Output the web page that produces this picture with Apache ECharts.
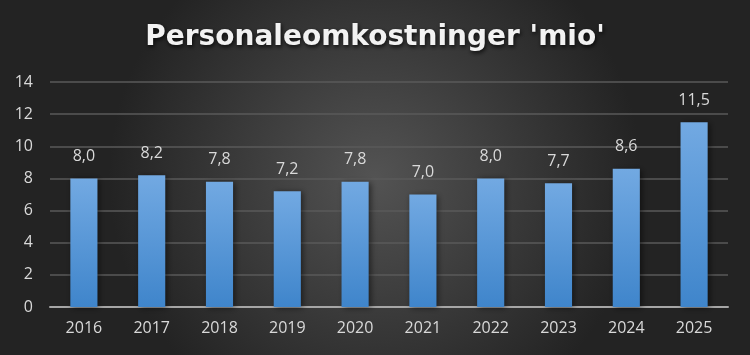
<!DOCTYPE html>
<html>
<head>
<meta charset="utf-8">
<script src="https://cdn.jsdelivr.net/npm/echarts@6/dist/echarts.min.js"></script>
<style>
  html, body { margin: 0; padding: 0; }
  #chart { width: 750px; height: 355px; }
</style>
</head>
<body>
<div id="chart"></div>
<script>
const years = ['2016', '2017', '2018', '2019', '2020', '2021', '2022', '2023', '2024', '2025'];
const costs = [8.0, 8.2, 7.8, 7.2, 7.8, 7.0, 8.0, 7.7, 8.6, 11.5];
const yTicks = [0, 2, 4, 6, 8, 10, 12, 14];

const chart = echarts.init(document.getElementById('chart'));

const textColor = '#d9d9d9';
const font = 'Open Sans, Noto Sans, sans-serif';

chart.setOption({
  backgroundColor: new echarts.graphic.RadialGradient(0.5, 0.5, 0.75, [
    { offset: 0, color: '#535353' },
    { offset: 1, color: '#232323' }
  ]),
  title: {
    text: "Personaleomkostninger 'mio'",
    left: 'center',
    top: 19,
    textStyle: {
      color: '#f2f2f2',
      fontSize: 28,
      fontWeight: 'bold',
      fontFamily: 'DejaVu Sans, sans-serif',
      textShadowColor: 'rgba(0,0,0,0.8)',
      textShadowBlur: 4,
      textShadowOffsetX: 1,
      textShadowOffsetY: 2
    }
  },
  grid: { left: 50, right: 22, top: 82, bottom: 48 },
  xAxis: {
    type: 'category',
    data: years,
    axisLine: { lineStyle: { color: '#a6a6a6', width: 2 } },
    axisTick: { show: false },
    axisLabel: { color: textColor, fontSize: 16, fontFamily: font, margin: 13 }
  },
  yAxis: {
    type: 'value',
    min: yTicks[0],
    max: yTicks[yTicks.length - 1],
    interval: 2,
    axisLine: { show: false },
    axisTick: { show: false },
    axisLabel: { color: textColor, fontSize: 16, fontFamily: font, margin: 17 },
    splitLine: { lineStyle: { color: '#5a5a5a', width: 1.5 } }
  },
  series: [{
    type: 'bar',
    data: costs,
    barWidth: '40%',
    itemStyle: {
      color: new echarts.graphic.LinearGradient(0, 0, 0, 1, [
        { offset: 0, color: '#72a9e2' },
        { offset: 1, color: '#3f85cb' }
      ]),
      shadowColor: 'rgba(0,0,0,0.5)',
      shadowBlur: 6,
      shadowOffsetX: 2,
      shadowOffsetY: 1
    },
    label: {
      show: true,
      position: 'top',
      distance: 14,
      color: textColor,
      fontSize: 16,
      fontFamily: font,
      formatter: p => p.value.toFixed(1).replace('.', ',')
    }
  }]
});
</script>
</body>
</html>
